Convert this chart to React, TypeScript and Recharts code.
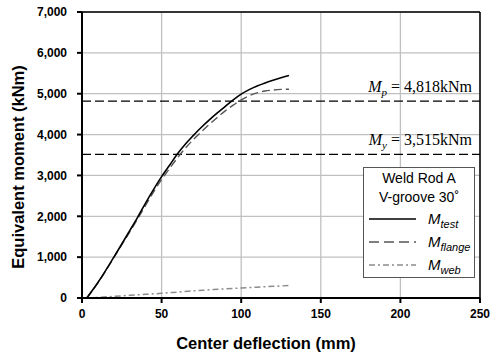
import {
  CartesianGrid,
  Legend,
  Line,
  LineChart,
  ReferenceLine,
  XAxis,
  YAxis,
} from "recharts";

// center deflection (mm) and equivalent moment (kNm)
const testDefl = [3, 10, 20, 30, 35, 40, 45, 50, 55, 60, 65, 70, 75, 80, 85, 90, 95, 100, 105, 110, 115, 120, 125, 130];
const testMoment = [0, 380, 1000, 1650, 1980, 2330, 2660, 2970, 3250, 3530, 3770, 3980, 4180, 4360, 4530, 4690, 4850, 4990, 5100, 5190, 5265, 5330, 5390, 5445];

const flangeDefl = [3, 10, 20, 30, 35, 40, 45, 50, 55, 60, 65, 70, 75, 80, 85, 90, 95, 100, 105, 110, 115, 120, 125, 130];
const flangeMoment = [0, 370, 990, 1620, 1940, 2270, 2600, 2900, 3170, 3430, 3670, 3880, 4070, 4250, 4420, 4580, 4720, 4850, 4950, 5020, 5065, 5090, 5105, 5110];

const webDefl = [3, 10, 20, 30, 40, 50, 60, 70, 80, 90, 100, 110, 120, 130];
const webMoment = [0, 15, 40, 65, 90, 115, 145, 175, 200, 225, 245, 265, 285, 305];

const xTicks = [0, 50, 100, 150, 200, 250];
const yTicks = [0, 1000, 2000, 3000, 4000, 5000, 6000, 7000];

const plasticMoment = 4818;
const yieldMoment = 3515;

const toPoints = (xs: number[], ys: number[]) => xs.map((x, i) => ({ x, y: ys[i] }));

const testData = toPoints(testDefl, testMoment);
const flangeData = toPoints(flangeDefl, flangeMoment);
const webData = toPoints(webDefl, webMoment);

const legendItems = [
  { sub: "test", stroke: "#000", dash: undefined, width: 1.6 },
  { sub: "flange", stroke: "#555", dash: "10 5", width: 1.4 },
  { sub: "web", stroke: "#8c8c8c", dash: "6 3 2 3", width: 1.5 },
];

const tickStyle = {
  fontFamily: "'Liberation Sans', Arial, sans-serif",
  fontSize: 12,
  fontWeight: "bold",
  fill: "#000",
};

function RefLabel(name: string, sub: string, value: string) {
  return (props: any) => {
    const vb = props.viewBox || {};
    return (
      <text
        x={vb.x + vb.width - 8}
        y={vb.y - 9}
        textAnchor="end"
        fontFamily="'Liberation Serif', 'Times New Roman', serif"
        fontSize={16}
        fill="#000"
      >
        <tspan fontStyle="italic">{name}</tspan>
        <tspan fontStyle="italic" fontSize={11} dy={4}>
          {sub}
        </tspan>
        <tspan dy={-4}>{" = " + value}</tspan>
      </text>
    );
  };
}

function LegendBox() {
  return (
    <div
      style={{
        width: 112,
        height: 111,
        border: "1px solid #555",
        background: "#fff",
        boxSizing: "border-box",
        fontFamily: "'Liberation Sans', Arial, sans-serif",
        color: "#000",
      }}
    >
      <div style={{ textAlign: "center", fontSize: 14, lineHeight: "19px", marginTop: 1 }}>
        Weld Rod A
        <br />
        V-groove 30˚
      </div>
      {legendItems.map((item) => (
        <div key={item.sub} style={{ display: "flex", alignItems: "center", height: 23 }}>
          <svg width={50} height={10} style={{ marginLeft: 4 }}>
            <line
              x1={1}
              y1={5}
              x2={48}
              y2={5}
              stroke={item.stroke}
              strokeWidth={item.width}
              strokeDasharray={item.dash}
            />
          </svg>
          <span style={{ marginLeft: 10, fontSize: 15, fontStyle: "italic" }}>
            M<span style={{ fontSize: 11, position: "relative", top: 4 }}>{item.sub}</span>
          </span>
        </div>
      ))}
    </div>
  );
}

export default function App() {
  return (
    <div style={{ position: "absolute", left: 0, top: 0, background: "#fff" }}>
      <LineChart
        width={500}
        height={361}
        margin={{ top: 12, right: 20, bottom: 23, left: 22 }}
      >
        <CartesianGrid stroke="#c0c0c0" strokeWidth={1.3} />
        <XAxis
          type="number"
          dataKey="x"
          domain={[0, 250]}
          ticks={xTicks}
          interval={0}
          height={40}
          stroke="#000"
          strokeWidth={2}
          tickSize={5}
          tickMargin={6}
          tick={tickStyle}
          allowDuplicatedCategory={false}
        />
        <YAxis
          type="number"
          dataKey="y"
          domain={[0, 7000]}
          ticks={yTicks}
          interval={0}
          width={60}
          stroke="#000"
          strokeWidth={2}
          tickSize={5}
          tickMargin={10}
          tick={tickStyle}
          tickFormatter={(v: number) => v.toLocaleString("en-US")}
        />
        <ReferenceLine y={7000} stroke="#000" strokeWidth={1.5} />
        <ReferenceLine x={250} stroke="#000" strokeWidth={1.5} />
        <ReferenceLine
          y={plasticMoment}
          stroke="#000"
          strokeWidth={1.2}
          strokeDasharray="9 4"
          label={{ content: RefLabel("M", "p", "4,818kNm") }}
        />
        <ReferenceLine
          y={yieldMoment}
          stroke="#000"
          strokeWidth={1.2}
          strokeDasharray="9 4"
          label={{ content: RefLabel("M", "y", "3,515kNm") }}
        />
        <Line
          data={webData}
          dataKey="y"
          type="monotone"
          stroke="#8c8c8c"
          strokeWidth={1.5}
          strokeDasharray="6 3 2 3"
          dot={false}
          isAnimationActive={false}
        />
        <Line
          data={flangeData}
          dataKey="y"
          type="monotone"
          stroke="#555"
          strokeWidth={1.4}
          strokeDasharray="8 4"
          dot={false}
          isAnimationActive={false}
        />
        <Line
          data={testData}
          dataKey="y"
          type="monotone"
          stroke="#000"
          strokeWidth={1.6}
          dot={false}
          isAnimationActive={false}
        />
        <Legend
          layout="vertical"
          align="center"
          verticalAlign="middle"
          content={() => <LegendBox />}
          wrapperStyle={{ left: 363, top: 167, width: 112, height: 111 }}
        />
        <text
          x={266}
          y={349}
          textAnchor="middle"
          fontFamily="'Liberation Sans', Arial, sans-serif"
          fontSize={16.5}
          fontWeight="bold"
          fill="#000"
        >
          Center deflection (mm)
        </text>
        <text
          x={24}
          y={167}
          transform="rotate(-90 24 167)"
          textAnchor="middle"
          fontFamily="'Liberation Sans', Arial, sans-serif"
          fontSize={16.5}
          fontWeight="bold"
          fill="#000"
        >
          Equivalent moment (kNm)
        </text>
      </LineChart>
    </div>
  );
}
